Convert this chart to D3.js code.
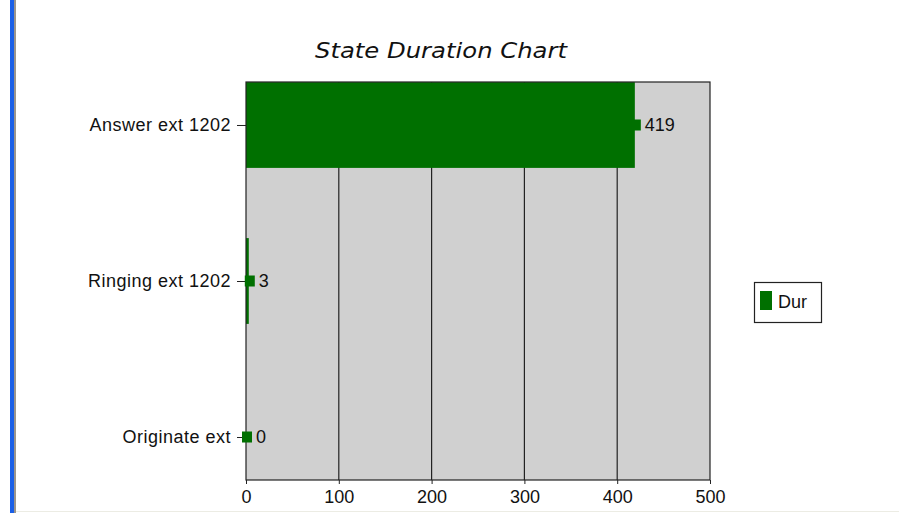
<!DOCTYPE html>
<html>
<head>
<meta charset="utf-8">
<script src="https://cdn.jsdelivr.net/npm/d3@7"></script>
<style>
  html, body { margin: 0; padding: 0; background: #fff; }
  svg { display: block; }
</style>
</head>
<body>
<script>
// Durations per call state
const categories = ["Answer ext 1202", "Ringing ext 1202", "Originate ext"];
const durations = [419, 3, 0];
const xTicks = [0, 100, 200, 300, 400, 500];
const seriesName = "Dur";
const chartTitle = "State Duration Chart";

const W = 899, H = 513;
const plot = { left: 246, right: 710, top: 82, bottom: 480 };
const green = "#007000";
const labelFont = "Liberation Sans, Arial, sans-serif";

const svg = d3.select("body").append("svg").attr("width", W).attr("height", H);

// window frame on the left edge
svg.append("rect").attr("x", 10).attr("y", 0).attr("width", 4).attr("height", H).attr("fill", "#1a5fe6");
svg.append("rect").attr("x", 14).attr("y", 0).attr("width", 2).attr("height", H).attr("fill", "#9a948c");
svg.append("rect").attr("x", 16).attr("y", H - 2).attr("width", W - 16).attr("height", 1).attr("fill", "#ecece4");

const x = d3.scaleLinear().domain([0, 500]).range([plot.left, plot.right]);
const y = d3.scalePoint().domain(categories).range([plot.top, plot.bottom]).padding(0.2756);
const barH = y.step() * 0.55;

// plot background
svg.append("rect")
  .attr("x", plot.left).attr("y", plot.top)
  .attr("width", plot.right - plot.left).attr("height", plot.bottom - plot.top)
  .attr("fill", "#d0d0d0");

// vertical grid lines
svg.append("g").selectAll("line")
  .data(xTicks.slice(1, -1))
  .join("line")
  .attr("x1", d => x(d)).attr("x2", d => x(d))
  .attr("y1", plot.top).attr("y2", plot.bottom)
  .attr("stroke", "#222").attr("stroke-width", 1.2);

// bars
const rows = categories.map((c, i) => ({ cat: c, val: durations[i] }));
svg.append("g").selectAll("rect")
  .data(rows)
  .join("rect")
  .attr("x", x(0))
  .attr("y", d => y(d.cat) - barH / 2)
  .attr("width", d => x(d.val) - x(0))
  .attr("height", barH)
  .attr("fill", green);

// plot border
svg.append("rect")
  .attr("x", plot.left).attr("y", plot.top)
  .attr("width", plot.right - plot.left).attr("height", plot.bottom - plot.top)
  .attr("fill", "none").attr("stroke", "#222").attr("stroke-width", 1.2);

// x axis
const xAxis = svg.append("g")
  .attr("transform", `translate(0,${plot.bottom})`)
  .call(d3.axisBottom(x).tickValues(xTicks).tickSize(4).tickPadding(6));
xAxis.select(".domain").remove();
xAxis.selectAll(".tick line").attr("stroke", "#222");
xAxis.selectAll("text")
  .attr("font-family", labelFont)
  .attr("font-size", 18).attr("fill", "#111");

// y axis
const yAxis = svg.append("g")
  .attr("transform", `translate(${plot.left},0)`)
  .call(d3.axisLeft(y).tickSize(9).tickPadding(6));
yAxis.select(".domain").remove();
yAxis.selectAll(".tick line").attr("stroke", "#222");
yAxis.selectAll("text")
  .attr("font-family", labelFont)
  .attr("font-size", 18).attr("letter-spacing", 0.5).attr("fill", "#111");

// value markers and labels
const marks = svg.append("g");
marks.selectAll("rect")
  .data(rows)
  .join("rect")
  .attr("x", d => x(d.val) - 4)
  .attr("y", d => y(d.cat) - 5.5)
  .attr("width", 10).attr("height", 11)
  .attr("fill", green);
marks.selectAll("text")
  .data(rows)
  .join("text")
  .attr("x", d => x(d.val) + 10)
  .attr("y", d => y(d.cat))
  .attr("dy", "0.35em")
  .attr("font-family", labelFont)
  .attr("font-size", 18).attr("fill", "#111")
  .text(d => d.val);

// title
svg.append("text")
  .attr("x", 441).attr("y", 58)
  .attr("text-anchor", "middle")
  .attr("font-family", "DejaVu Sans, Verdana, sans-serif")
  .attr("font-style", "italic")
  .attr("font-size", 21).attr("fill", "#111")
  .attr("textLength", 252).attr("lengthAdjust", "spacingAndGlyphs")
  .text(chartTitle);

// legend
const lg = svg.append("g");
lg.append("rect").attr("x", 754.5).attr("y", 282.5).attr("width", 67).attr("height", 40)
  .attr("fill", "#fff").attr("stroke", "#222").attr("stroke-width", 1.2);
lg.append("rect").attr("x", 760).attr("y", 291).attr("width", 12).attr("height", 19).attr("fill", green);
lg.append("text").attr("x", 778).attr("y", 302).attr("dy", "0.35em")
  .attr("font-family", labelFont)
  .attr("font-size", 18).attr("fill", "#111")
  .text(seriesName);
</script>
</body>
</html>
